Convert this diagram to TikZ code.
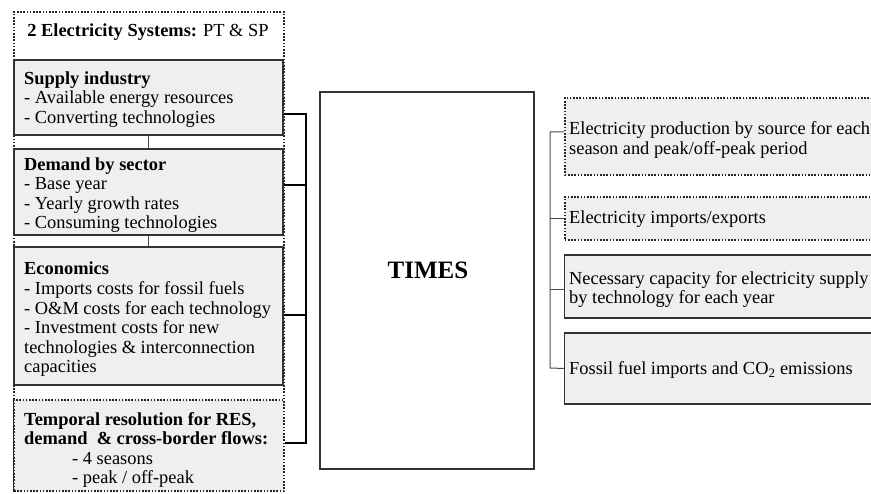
\documentclass[tikz,border=0pt]{standalone}
\usepackage{fontspec}
\setmainfont{Liberation Serif}
\begin{document}
\begin{tikzpicture}[x=1pt,y=-1pt,
  txt/.style={font=\fontsize{18.4}{19.6}\selectfont, inner sep=0pt},
  solidbox/.style={draw=black!80, line width=1.3pt, fill=boxgray, rectangle, inner sep=0pt},
  dotbox/.style={draw=black!85, line width=1.6pt, dash pattern=on 1.6pt off 1.6pt, rectangle, inner sep=0pt},
  conn/.style={draw=black, line width=1.5pt},
  thin/.style={draw=black!70, line width=1pt}]
\definecolor{boxgray}{HTML}{EEEFF1}
\useasboundingbox (0,0) rectangle (871,494);
\clip (0,0) rectangle (871,494);
% outer dotted frame
\node[dotbox, minimum width=270pt, minimum height=479pt] (outer) at (149,251.5) {};
\node[txt, anchor=base] (title) at (148,37) {\textbf{2 Electricity Systems:} PT \& SP};
% left boxes (base anchor = baseline of last line)
\node[solidbox, minimum width=269pt, minimum height=75pt] (sup) at (148.5,97.5) {};
\node[txt, anchor=base west, align=left] (supt) at (24,123.5) {\textbf{Supply industry}\\- Available energy resources\\- Converting technologies};
\node[solidbox, minimum width=269pt, minimum height=86pt] (dem) at (148.5,192) {};
\node[txt, anchor=base west, align=left] (demt) at (24,229) {\textbf{Demand by sector}\\- Base year\\- Yearly growth rates\\- Consuming technologies};
\node[solidbox, minimum width=269pt, minimum height=138pt] (eco) at (148.5,316) {};
\node[txt, anchor=base west, align=left] (ecot) at (24,373) {\textbf{Economics}\\- Imports costs for fossil fuels\\- O\&M costs for each technology\\- Investment costs for new\\technologies \& interconnection\\capacities};
\node[dotbox, fill=boxgray, minimum width=270pt, minimum height=91pt] (tmp) at (149,445.5) {};
\node[txt, anchor=base west, align=left] (tmpt) at (24,484) {\textbf{Temporal resolution for RES,}\\\textbf{demand\ \ \& cross-border flows:}\\\hspace*{48pt}- 4 seasons\\\hspace*{48pt}- peak / off-peak};
\draw[thin] (sup.south) -- (dem.north);
\draw[thin] (dem.south) -- (eco.north);
% left bracket
\coordinate (lt) at (306,114);
\coordinate (lb) at (306,443);
\draw[conn] (sup.east |- lt) -- (lt) -- (lb) -- (tmp.east |- lb);
\draw[conn] ([yshift=7pt]dem.east) -- ([yshift=7pt]dem.east -| lt);
\draw[conn] ([yshift=1pt]eco.east) -- ([yshift=1pt]eco.east -| lt);
% TIMES
\node[draw=black!80, line width=1.3pt, minimum width=214pt, minimum height=377pt] (times) at (427,280.5) {};
\node[font=\fontsize{25}{30}\selectfont\bfseries] (timest) at (428,270) {TIMES};
% right boxes
\node[dotbox, fill=boxgray, minimum width=320pt, minimum height=77pt, anchor=west] (o1) at (564,136.5) {};
\node[txt, anchor=base west, align=left] (o1t) at (569,154.5) {Electricity production by source for each\\season and peak/off-peak period};
\node[dotbox, fill=boxgray, minimum width=320pt, minimum height=43pt, anchor=west] (o2) at (564,218.5) {};
\node[txt, anchor=base west] (o2t) at (569,224) {Electricity imports/exports};
\node[solidbox, minimum width=320pt, minimum height=63pt, anchor=west] (o3) at (564,286.5) {};
\node[txt, anchor=base west, align=left] (o3t) at (569,304) {Necessary capacity for electricity supply\\by technology for each year};
\node[solidbox, minimum width=320pt, minimum height=71pt, anchor=west] (o4) at (564,368.5) {};
\node[txt, anchor=base west] (o4t) at (569,375) {Fossil fuel imports and CO\textsubscript{2} emissions};
% right bracket
\coordinate (rt) at (550,132);
\coordinate (rb) at (550,368);
\draw[thin] ([yshift=4.5pt]o1.west) -- (rt) -- (rb) -- (o4.west);
\draw[thin] (o2.west) -- (o2.west -| rt);
\draw[thin] ([yshift=-3.5pt]o3.west) -- ([yshift=-3.5pt]o3.west -| rt);
\end{tikzpicture}
\end{document}
